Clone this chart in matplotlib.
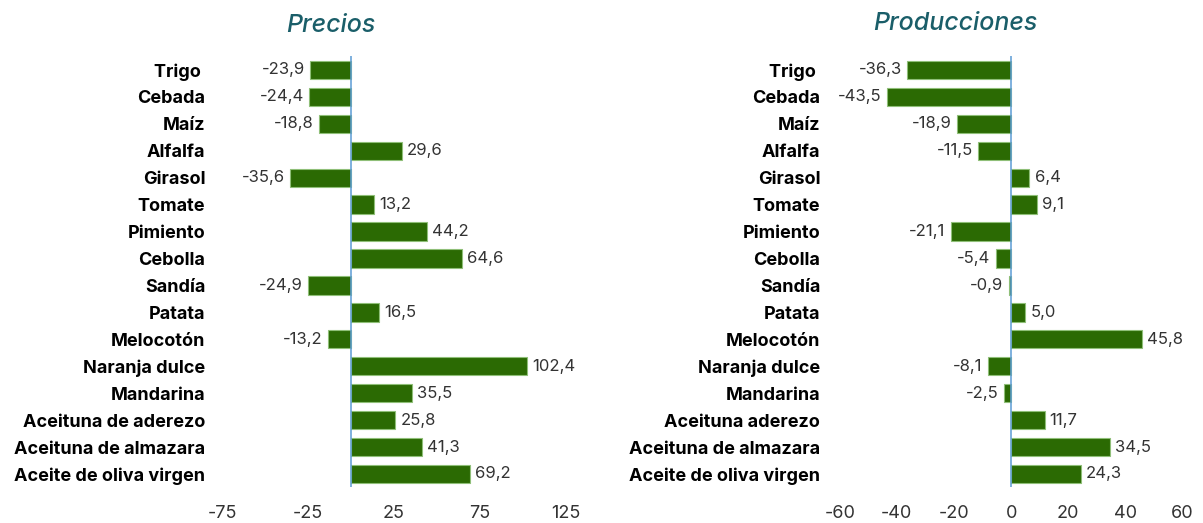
import matplotlib
matplotlib.use("Agg")
import matplotlib.pyplot as plt
import numpy as np

cats_precios = ["Trigo ", "Cebada", "Maíz", "Alfalfa", "Girasol", "Tomate", "Pimiento",
                "Cebolla", "Sandía", "Patata", "Melocotón", "Naranja dulce", "Mandarina",
                "Aceituna de aderezo", "Aceituna de almazara", "Aceite de oliva virgen"]
precios = [-23.9, -24.4, -18.8, 29.6, -35.6, 13.2, 44.2, 64.6, -24.9, 16.5,
           -13.2, 102.4, 35.5, 25.8, 41.3, 69.2]

cats_prod = ["Trigo ", "Cebada", "Maíz", "Alfalfa", "Girasol", "Tomate", "Pimiento",
             "Cebolla", "Sandía", "Patata", "Melocotón", "Naranja dulce", "Mandarina",
             "Aceituna aderezo", "Aceituna de almazara", "Aceite de oliva virgen"]
producciones = [-36.3, -43.5, -18.9, -11.5, 6.4, 9.1, -21.1, -5.4, -0.9, 5.0,
                45.8, -8.1, -2.5, 11.7, 34.5, 24.3]

ticks_precios = [-75, -25, 25, 75, 125]
ticks_prod = [-60, -40, -20, 0, 20, 40, 60]

plt.rcParams["font.family"] = ["Inter", "DejaVu Sans"]
plt.rcParams["axes.unicode_minus"] = False
BAR = "#2b6a03"
EDGE = "#8fbf78"
TITLE = "#1a5e69"

fig = plt.figure(figsize=(12.03, 5.23), dpi=100)
ax1 = fig.add_axes([0.1845, 0.068, 0.286, 0.824])
ax2 = fig.add_axes([0.698, 0.068, 0.285, 0.824])


def panel(ax, cats, vals, lim, ticks, off, ypad):
    y = np.arange(len(cats))
    ax.barh(y, vals, height=0.68, color=BAR, edgecolor=EDGE, linewidth=0.8, zorder=2)
    ax.axvline(0, color="#5b9bd5", lw=1.1, zorder=3)
    for yi, v in zip(y, vals):
        txt = f"{v:.1f}".replace(".", ",")
        if v < 0:
            ax.text(v - off, yi, txt, ha="right", va="center", fontsize=12, color="#333333")
        else:
            ax.text(v + off, yi, txt, ha="left", va="center", fontsize=12, color="#333333")
    ax.set_yticks(y)
    ax.set_yticklabels(cats, fontsize=13, fontweight="bold")
    ax.set_ylim(len(cats) - 0.5, -0.5)
    ax.set_xlim(*lim)
    ax.set_xticks(ticks)
    ax.tick_params(axis="x", length=0, pad=13, labelsize=13, labelcolor="#333333")
    ax.tick_params(axis="y", length=0, pad=ypad)
    for s in ax.spines.values():
        s.set_visible(False)


panel(ax1, cats_precios, precios, (-75, 125), ticks_precios, 3.0, 12)
panel(ax2, cats_prod, producciones, (-60, 60), ticks_prod, 1.8, 14)

fig.text(0.275, 0.951, "Precios", fontsize=18, style="italic", fontweight="medium",
         color=TITLE, ha="center", va="center")
fig.text(0.794, 0.955, "Producciones", fontsize=18, style="italic", fontweight="medium",
         color=TITLE, ha="center", va="center")

fig.savefig("out.png", dpi=100)
